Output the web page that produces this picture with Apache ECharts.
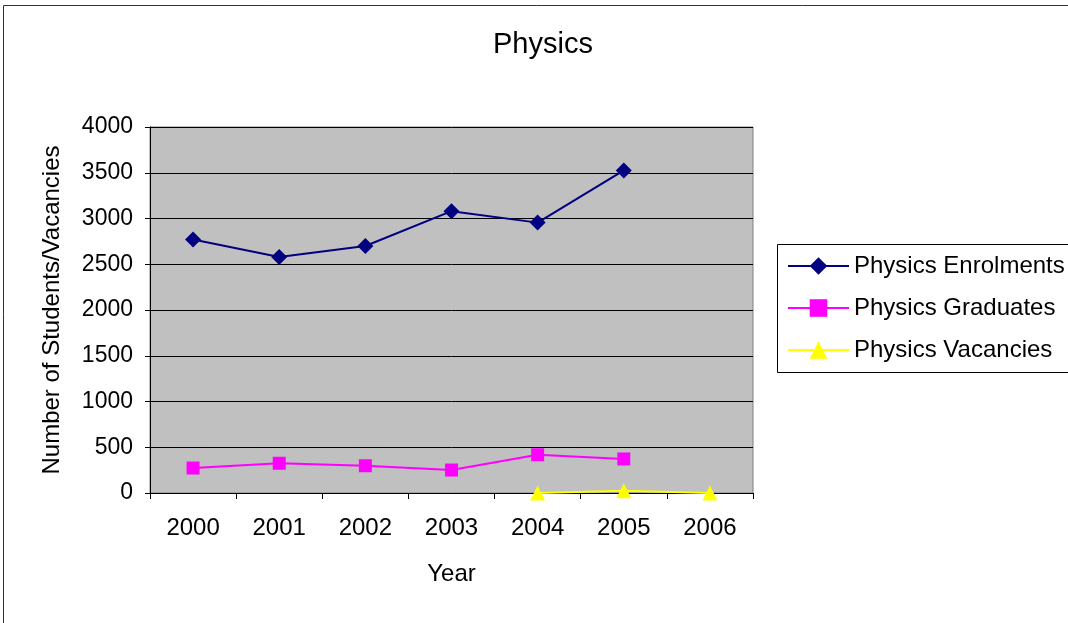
<!DOCTYPE html>
<html>
<head>
<meta charset="utf-8">
<script src="https://cdn.jsdelivr.net/npm/echarts@6/dist/echarts.min.js"></script>
<style>
  html, body { margin: 0; padding: 0; background: #fff; }
  #chart { width: 1068px; height: 623px; }
</style>
</head>
<body>
<div id="chart"></div>
<script>
// Physics enrolments, graduates and vacancies by year
const years = ['2000', '2001', '2002', '2003', '2004', '2005', '2006'];
const enrolments = [2770, 2580, 2700, 3080, 2955, 3525, null];
const graduates = [273, 325, 298, 251, 418, 372, null];
const vacancies = [null, null, null, null, 0, 25, 0];

const FONT = '"Liberation Sans", Arial, sans-serif';

const chart = echarts.init(document.getElementById('chart'), null, { renderer: 'canvas' });

chart.setOption({
  backgroundColor: '#ffffff',
  animation: false,
  textStyle: { fontFamily: FONT, color: '#000' },
  title: {
    text: 'Physics',
    left: 493,
    top: 30,
    padding: 0,
    textStyle: { fontFamily: FONT, fontSize: 29, fontWeight: 'normal', color: '#000' }
  },
  graphic: [
    {
      type: 'rect',
      shape: { x: 3.5, y: 5.5, width: 1100, height: 700 },
      style: { fill: null, stroke: '#333', lineWidth: 1 },
      silent: true, z: -1
    },
    {
      type: 'rect',
      shape: { x: 777.5, y: 244.5, width: 320, height: 128 },
      style: { fill: '#fff', stroke: '#000', lineWidth: 1 },
      silent: true, z: 0
    }
  ],
  legend: {
    orient: 'vertical',
    left: 787,
    top: 254,
    padding: 0,
    itemWidth: 61,
    itemHeight: 22,
    itemGap: 18,
    z: 5,
    textStyle: { fontFamily: FONT, fontSize: 24, color: '#000', lineHeight: 24, padding: 0 },
    data: ['Physics Enrolments', 'Physics Graduates', 'Physics Vacancies']
  },
  grid: {
    show: true,
    left: 150,
    right: 315,
    top: 127,
    bottom: 130,
    backgroundColor: '#C0C0C0',
    borderColor: '#808080',
    borderWidth: 1,
    containLabel: false
  },
  xAxis: {
    type: 'category',
    data: years,
    boundaryGap: true,
    name: 'Year',
    nameLocation: 'middle',
    nameGap: 69,
    nameTextStyle: { fontFamily: FONT, fontSize: 24, color: '#000' },
    axisLine: { lineStyle: { color: '#000', width: 1 } },
    axisTick: { show: true, alignWithLabel: false, length: 6, lineStyle: { color: '#000' } },
    axisLabel: { fontFamily: FONT, fontSize: 24, color: '#000', margin: 23 },
    splitLine: { show: false }
  },
  yAxis: {
    type: 'value',
    min: 0,
    max: 4000,
    interval: 500,
    name: 'Number of Students/Vacancies',
    nameLocation: 'middle',
    nameGap: 86,
    nameTextStyle: { fontFamily: FONT, fontSize: 24, color: '#000' },
    axisLine: { show: true, lineStyle: { color: '#000', width: 1 } },
    axisTick: { show: true, length: 5, lineStyle: { color: '#000' } },
    axisLabel: {
      fontFamily: FONT, fontSize: 23, color: '#000', margin: 17,
      formatter: (v) => String(v)
    },
    splitLine: { show: true, lineStyle: { color: '#000', width: 1 } }
  },
  series: [
    {
      name: 'Physics Enrolments',
      type: 'line',
      data: enrolments,
      symbol: 'diamond',
      symbolSize: 16,
      lineStyle: { color: '#000080', width: 2 },
      itemStyle: { color: '#000080' },
      z: 4
    },
    {
      name: 'Physics Graduates',
      type: 'line',
      data: graduates,
      symbol: 'rect',
      symbolSize: 13,
      lineStyle: { color: '#FF00FF', width: 2 },
      itemStyle: { color: '#FF00FF' },
      z: 3
    },
    {
      name: 'Physics Vacancies',
      type: 'line',
      data: vacancies,
      symbol: 'triangle',
      symbolSize: 15,
      lineStyle: { color: '#FFFF00', width: 2 },
      itemStyle: { color: '#FFFF00' },
      z: 3
    }
  ]
});
</script>
</body>
</html>
